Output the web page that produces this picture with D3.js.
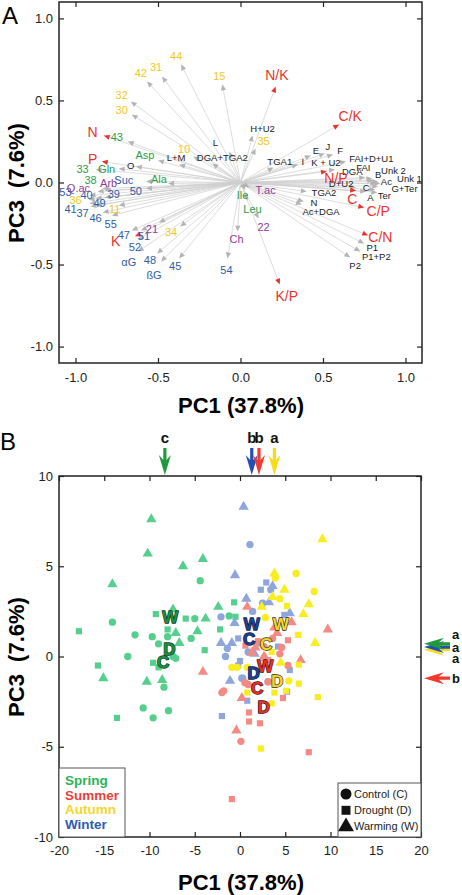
<!DOCTYPE html>
<html><head><meta charset="utf-8">
<script src="https://cdn.jsdelivr.net/npm/d3@7"></script>
<style>
body{margin:0;background:#fff}
svg{display:block}
text{font-family:"Liberation Sans",Arial,Helvetica,sans-serif}
</style></head>
<body><svg id="chart" width="462" height="895"></svg>
<script>
// ---------- Panel A: loadings  [label, x, y, labelX, labelY] ----------
const redLoadings = [
  ["N",-0.829,0.287,-0.896,0.305],["P",-0.841,0.128,-0.896,0.140],["K",-0.640,-0.329,-0.756,-0.360],
  ["N/K",0.213,0.585,0.220,0.652],["C/K",0.598,0.354,0.665,0.402],["N/P",0.524,0.067,0.579,0.024],
  ["C",0.701,-0.049,0.677,-0.104],["C/P",0.750,-0.152,0.835,-0.177],["C/N",0.774,-0.323,0.848,-0.335],
  ["K/P",0.238,-0.622,0.280,-0.695]
];
const yellowLoadings = [
  ["44",-0.360,0.720,-0.390,0.768],["31",-0.476,0.646,-0.512,0.701],["42",-0.567,0.616,-0.604,0.665],
  ["15",-0.110,0.598,-0.128,0.646],["32",-0.665,0.494,-0.720,0.530],["30",-0.659,0.415,-0.720,0.439],
  ["10",-0.287,0.159,-0.341,0.201],["36",-0.921,-0.104,-1.000,-0.110],["11",-0.738,-0.140,-0.762,-0.165],
  ["34",-0.366,-0.268,-0.421,-0.305],["35",0.091,0.207,0.140,0.250]
];
const greenLoadings = [
  ["43",-0.683,0.250,-0.750,0.274],["Asp",-0.500,0.134,-0.579,0.165],["33",-0.878,0.079,-0.957,0.079],
  ["Gln",-0.738,0.085,-0.811,0.079],["Ala",-0.439,-0.006,-0.494,0.018],["38",-0.835,-0.037,-0.909,0.012],
  ["Ile",0.030,-0.043,0.012,-0.079],["Leu",0.043,-0.110,0.073,-0.165]
];
const blueLoadings = [
  ["Suc",-0.573,0.006,-0.707,0.012],["50",-0.573,-0.037,-0.634,-0.055],["53",-0.915,-0.079,-1.061,-0.061],
  ["40",-0.878,-0.098,-0.933,-0.079],["39",-0.823,-0.091,-0.768,-0.073],["49",-0.878,-0.140,-0.854,-0.128],
  ["41",-0.915,-0.128,-1.030,-0.165],["37",-0.909,-0.146,-0.957,-0.189],["46",-0.835,-0.183,-0.878,-0.220],
  ["55",-0.780,-0.201,-0.787,-0.256],["47",-0.659,-0.293,-0.707,-0.323],["51",-0.604,-0.293,-0.585,-0.329],
  ["52",-0.622,-0.348,-0.640,-0.396],["αG",-0.622,-0.421,-0.677,-0.488],["48",-0.506,-0.433,-0.549,-0.476],
  ["ßG",-0.482,-0.482,-0.524,-0.567],["45",-0.372,-0.463,-0.396,-0.512],["54",-0.079,-0.463,-0.085,-0.537]
];
const purpleLoadings = [
  ["Q.ac",-0.866,-0.055,-0.982,-0.037],["Arb",-0.823,-0.049,-0.799,-0.006],["21",-0.494,-0.244,-0.537,-0.287],
  ["Ch",-0.018,-0.299,-0.024,-0.348],["22",0.110,-0.220,0.140,-0.274],["T.ac",0.055,-0.030,0.152,-0.049]
];
const blackLoadings = [
  ["L",-0.067,0.189,-0.152,0.244],["L+M",-0.372,0.110,-0.390,0.152],["DGA+TGA2",-0.171,0.116,-0.110,0.152],
  ["O",-0.634,0.098,-0.665,0.104],["H+U2",0.073,0.287,0.134,0.329],["TGA1",0.201,0.091,0.238,0.128],
  ["I",0.348,0.110,0.378,0.128],["E",0.427,0.165,0.457,0.195],["J",0.512,0.177,0.530,0.220],
  ["F",0.561,0.171,0.604,0.195],["K + U2",0.573,0.079,0.518,0.122],["FAI+D+U1",0.640,0.128,0.793,0.146],
  ["DGA",0.756,0.030,0.677,0.067],["FAI",0.799,0.024,0.744,0.091],["B",0.805,0.012,0.835,0.049],
  ["Unk 2",0.835,0.006,0.927,0.073],["Ac",0.823,-0.006,0.884,0.006],["Unk 1",0.848,-0.006,1.024,0.024],
  ["D+U2",0.701,-0.030,0.610,-0.006],["C",0.835,-0.024,0.762,-0.030],["G+Ter",0.817,-0.043,0.994,-0.037],
  ["A",0.762,-0.055,0.787,-0.091],["Ter",0.829,-0.061,0.872,-0.079],["TGA2",0.402,-0.055,0.506,-0.061],
  ["N",0.384,-0.116,0.445,-0.122],["Ac+DGA",0.372,-0.134,0.488,-0.177],["P1",0.750,-0.372,0.799,-0.396],
  ["P1+P2",0.726,-0.421,0.823,-0.451],["P2",0.665,-0.457,0.695,-0.506]
];
const ticksA = [-1.0,-0.5,0.0,0.5,1.0];

// ---------- Panel B: scores [PC1, PC3, treatment] ----------
const spring = [
  [-9.8,7.6,"W"],[-10.2,5.7,"W"],[-6.3,5.0,"W"],[-4.1,5.4,"W"],[-4.4,4.2,"C"],[-14.1,4.0,"W"],
  [-14.1,1.9,"C"],[-17.8,1.4,"D"],[-11.6,1.2,"C"],[-9.3,2.35,"D"],[-7.4,2.6,"W"],[-6.0,2.1,"D"],
  [-5.0,2.1,"C"],[-3.8,2.1,"W"],[-2.4,2.75,"W"],[-1.2,2.25,"C"],[-2.2,1.5,"D"],[-4.7,1.4,"W"],
  [-5.4,1.0,"C"],[-7.1,1.3,"W"],[-8.0,1.5,"D"],[-8.0,1.1,"C"],[-9.7,1.1,"C"],[-9.0,0.7,"C"],
  [-6.7,0.75,"W"],[-12.4,0.0,"C"],[-3.9,0.35,"D"],[-7.4,0.0,"C"],[-7.1,-0.1,"C"],[-9.6,-0.35,"D"],
  [-9.0,-0.6,"D"],[-15.7,-0.5,"D"],[-15.1,-1.2,"W"],[-10.3,-1.4,"W"],[-8.6,-1.3,"W"],[-8.4,-1.7,"C"],
  [-10.7,-2.85,"C"],[-9.6,-3.4,"C"],[-7.9,-3.0,"C"],[-13.6,-3.4,"D"],[-0.65,3.0,"D"],[-0.5,2.2,"D"]
];
const summer = [
  [0.8,2.75,"W"],[5.7,1.9,"W"],[3.8,1.6,"W"],[9.7,1.5,"W"],[4.1,1.3,"W"],[5.3,0.9,"D"],
  [2.0,0.85,"D"],[0.6,0.6,"D"],[2.65,0.55,"C"],[4.6,0.5,"C"],[4.4,0.15,"C"],[2.65,0.0,"W"],
  [6.7,-0.2,"W"],[3.1,-1.4,"C"],[-4.1,-0.85,"W"],[1.7,0.5,"W"],[5.3,-0.5,"C"],[0.9,-1.55,"C"],
  [-2.0,-2.0,"C"],[-1.8,-1.9,"C"],[0.2,-2.3,"W"],[4.75,-2.3,"D"],[1.0,-3.1,"D"],[1.0,-3.6,"D"],
  [2.2,-3.7,"D"],[-0.4,-4.1,"W"],[0.1,-4.7,"C"],[7.6,-5.3,"D"],[-0.9,-7.9,"D"],[2.8,-0.1,"W"],
  [3.1,-0.2,"D"],[0.55,-1.45,"C"],[1.3,0.2,"W"],[3.6,1.0,"C"]
];
const autumn = [
  [9.1,6.5,"W"],[6.2,4.6,"C"],[3.8,4.6,"W"],[3.9,4.35,"C"],[4.9,3.7,"W"],[8.2,3.6,"C"],
  [3.6,3.3,"W"],[4.4,3.2,"C"],[2.4,2.75,"W"],[5.2,2.8,"D"],[7.6,2.9,"W"],[7.0,2.35,"W"],
  [2.8,2.15,"C"],[6.4,1.2,"D"],[8.3,0.75,"W"],[3.5,0.25,"D"],[-0.3,-0.6,"C"],[0.8,-0.6,"C"],
  [-0.9,-0.6,"C"],[4.5,-0.35,"W"],[6.5,-0.45,"D"],[5.4,-1.35,"C"],[6.5,-1.5,"D"],[3.8,-2.0,"D"],
  [8.6,-2.25,"D"],[3.5,-2.6,"D"],[5.1,-1.9,"D"],[0.8,-2.0,"D"],[2.3,-5.1,"D"]
];
const winter = [
  [0.4,8.3,"W"],[1.1,6.2,"C"],[-0.55,4.5,"W"],[2.9,4.1,"D"],[2.3,3.7,"D"],[3.4,3.7,"C"],
  [3.6,3.9,"W"],[0.7,3.2,"W"],[2.5,2.95,"C"],[3.2,3.0,"W"],[1.4,2.5,"C"],[-2.1,2.2,"C"],
  [-0.6,1.85,"W"],[5.5,2.4,"W"],[4.9,2.3,"D"],[-2.1,0.75,"W"],[-0.9,0.75,"W"],[-0.2,1.0,"D"],
  [-1.4,0.45,"C"],[-1.6,0.0,"C"],[2.0,0.75,"C"],[4.2,0.55,"D"],[0.9,0.25,"C"],[1.6,0.15,"W"],
  [0.0,-0.25,"D"],[-0.2,-0.5,"D"],[0.3,-1.2,"C"],[5.2,-1.95,"D"],[5.5,-0.75,"D"],[-1.1,-1.35,"W"],
  [0.2,-1.2,"C"],[3.1,-1.4,"C"],[0.8,-2.45,"D"],[-2.0,-3.3,"D"]
];
// centroids [season, treatment, PC1, PC3]
const centroids = [
  ["Spring","W",-7.7,2.2],["Spring","D",-7.8,0.4],["Spring","C",-8.5,-0.3],
  ["Winter","W",1.3,1.8],["Winter","C",1.0,0.95],["Winter","D",1.5,-0.9],
  ["Autumn","W",4.5,1.8],["Autumn","C",2.9,0.7],["Autumn","D",4.1,-1.35],
  ["Summer","W",2.8,-0.5],["Summer","C",1.9,-1.75],["Summer","D",2.6,-2.8]
];
// season means with significance letters
const pc1Means = [["Spring",-8.3,"c"],["Winter",1.3,"b"],["Summer",2.1,"b"],["Autumn",3.8,"a"]];
const pc3Means = [["Autumn",0.38,"a"],["Winter",0.52,"a"],["Spring",0.7,"a"],["Summer",-1.2,"b"]];
const seasons = ["Spring","Summer","Autumn","Winter"];
const treatments = [["C","Control (C)"],["D","Drought (D)"],["W","Warming (W)"]];
const ticksBx = [-20,-15,-10,-5,0,5,10,15,20];
const ticksBy = [-10,-5,0,5,10];

// ---------- styles ----------
const groupColor = {red:"#e8352c",yellow:"#f0c81c",green:"#2e9e4e",blue:"#2f5ca8",purple:"#8b3d9c",black:"#222"};
const pointColor = {Spring:"#55cf8c",Summer:"#f48a84",Autumn:"#f9ec1f",Winter:"#8ea6dd"};
const legendColor = {Spring:"#2fb15a",Summer:"#e8413c",Autumn:"#f6d62a",Winter:"#2f5db3"};
const centFill = {Spring:"#1b8f3e",Winter:"#1f3f8f",Autumn:"#f5d61e",Summer:"#e2302a"};
const centStroke = {Spring:"#0b3518",Winter:"#08183d",Autumn:"#2a2a1a",Summer:"#3d0a08"};
const arrowColor = {Spring:"#1e9a3c",Winter:"#2350b4",Summer:"#f23a2e",Autumn:"#f8dc18"};
const shapeOf = {C:d3.symbolCircle,D:d3.symbolSquare,W:d3.symbolTriangle};
const sizeOf = {C:42,D:38,W:46};

const svg = d3.select("#chart");

function frame(x0,x1,y0,y1){
  svg.append("rect").attr("x",x0).attr("y",y0).attr("width",x1-x0).attr("height",y1-y0)
    .attr("fill","none").attr("stroke","#222").attr("stroke-width",1.5);
}
function axes(xs,ys,xt,yt,fmt,padX,padY){
  const r = xs.range(), d = ys.range();
  const gl = svg.append("g").attr("transform",`translate(${r[0]},0)`)
    .call(d3.axisLeft(ys).tickValues(yt).tickSizeInner(-5).tickSizeOuter(0).tickPadding(padY).tickFormat(fmt));
  const gb = svg.append("g").attr("transform",`translate(0,${d[0]})`)
    .call(d3.axisBottom(xs).tickValues(xt).tickSizeInner(-5).tickSizeOuter(0).tickPadding(padX).tickFormat(fmt));
  const gt = svg.append("g").attr("transform",`translate(0,${d[1]})`)
    .call(d3.axisTop(xs).tickValues(xt).tickSizeInner(-5).tickSizeOuter(0).tickFormat(""));
  const gr = svg.append("g").attr("transform",`translate(${r[1]},0)`)
    .call(d3.axisRight(ys).tickValues(yt).tickSizeInner(-5).tickSizeOuter(0).tickFormat(""));
  [gl,gb,gt,gr].forEach(g=>{g.select(".domain").remove();
    g.selectAll("line").attr("stroke","#222").attr("stroke-width",1.2);
    g.selectAll("text").attr("font-size",13).attr("fill","#222")
     .attr("font-family",'"Liberation Sans",Arial,sans-serif');});
}

// =================== PANEL A ===================
const xA = d3.scaleLinear().domain([-1.1,1.1]).range([59,422]);
const yA = d3.scaleLinear().domain([-1.1,1.1]).range([363,2]);

const groupsA = [["black",blackLoadings],["yellow",yellowLoadings],["green",greenLoadings],
                 ["blue",blueLoadings],["purple",purpleLoadings],["red",redLoadings]];
const gLines = svg.append("g");
const gHeads = svg.append("g");
const gLabs = svg.append("g");
groupsA.forEach(([grp,arr])=>{
  arr.forEach(([lab,x,y,lx,ly])=>{
    const x0=xA(0),y0=yA(0),x1=xA(x),y1=yA(y);
    const ang=Math.atan2(y1-y0,x1-x0);
    const L=6, W=2.6;
    const bx=x1-L*Math.cos(ang), by=y1-L*Math.sin(ang);
    gLines.append("line").attr("x1",x0).attr("y1",y0).attr("x2",bx).attr("y2",by)
      .attr("stroke","#cfcfcf").attr("stroke-width",0.7);
    const px=-Math.sin(ang), py=Math.cos(ang);
    gHeads.append("path")
      .attr("d",`M${x1},${y1}L${bx+W*px},${by+W*py}L${bx-W*px},${by-W*py}Z`)
      .attr("fill",grp==="red"?"#e8352c":"#b4b4b4");
    gLabs.append("text").attr("x",xA(lx)).attr("y",yA(ly)).attr("dy","0.35em")
      .attr("text-anchor","middle")
      .attr("font-size",grp==="red"?14:(grp==="black"?9.5:11))
      .attr("fill",groupColor[grp]).text(lab);
  });
});
axes(xA,yA,ticksA,ticksA,d=>d.toFixed(1),10,6);
frame(59,422,2,363);
svg.append("text").attr("x",2).attr("y",24).attr("font-size",24).text("A");
svg.append("text").attr("x",241).attr("y",413).attr("text-anchor","middle")
  .attr("font-size",22).attr("font-weight","bold").text("PC1 (37.8%)");
svg.append("text").attr("transform","translate(24,183) rotate(-90)").attr("text-anchor","middle")
  .attr("font-size",22).attr("font-weight","bold").attr("xml:space","preserve").text("PC3  (7.6%)");

// =================== PANEL B ===================
const xB = d3.scaleLinear().domain([-20,20]).range([59,421]);
const yB = d3.scaleLinear().domain([-10,10]).range([837,476]);

const seasonData = {Spring:spring,Summer:summer,Autumn:autumn,Winter:winter};
const gPts = svg.append("g");
["Spring","Winter","Summer","Autumn"].forEach(s=>{
  gPts.selectAll(null).data(seasonData[s]).join("path")
    .attr("transform",d=>`translate(${xB(d[0])},${yB(d[1])})`)
    .attr("d",d=>d3.symbol(shapeOf[d[2]],sizeOf[d[2]])())
    .attr("fill",pointColor[s]);
});
// centroid letters
svg.append("g").selectAll("text").data(centroids).join("text")
  .attr("x",d=>xB(d[2])).attr("y",d=>yB(d[3])).attr("dy","0.36em").attr("text-anchor","middle")
  .attr("font-size",17).attr("font-weight","bold")
  .attr("fill",d=>centFill[d[0]]).attr("stroke",d=>centStroke[d[0]]).attr("stroke-width",1.3)
  .attr("paint-order","stroke").attr("stroke-linejoin","round").text(d=>d[1]);

axes(xB,yB,ticksBx,ticksBy,d=>String(d),9,6);
frame(59,421,476,837);

// legends
svg.append("rect").attr("x",59).attr("y",768).attr("width",66).attr("height",69)
  .attr("fill","#fff").attr("stroke","#555").attr("stroke-width",1);
svg.append("g").selectAll("text").data(seasons).join("text")
  .attr("x",65).attr("y",(d,i)=>785+i*14.6).attr("font-size",13.5).attr("font-weight","bold")
  .attr("fill",d=>legendColor[d]).text(d=>d);
svg.append("rect").attr("x",338).attr("y",783).attr("width",83).attr("height",54)
  .attr("fill","#fff").attr("stroke","#555").attr("stroke-width",1);
const lg = svg.append("g").selectAll("g").data(treatments).join("g")
  .attr("transform",(d,i)=>`translate(346,${794+i*16.3})`);
lg.append("path").attr("d",d=>d3.symbol(shapeOf[d[0]],d[0]==="W"?110:(d[0]==="D"?80:95))()).attr("fill","#111");
lg.append("text").attr("x",8).attr("dy","0.35em").attr("font-size",11).attr("fill","#222").text(d=>d[1]);

// significance arrows (top)
pc1Means.forEach(([s,v,l])=>{
  const cx=xB(v), t=448, b=475;
  svg.append("path").attr("d",
    `M${cx-1.6},${t}L${cx+1.6},${t}L${cx+1.6},${b-15}L${cx+6},${b-20}L${cx},${b}L${cx-6},${b-20}L${cx-1.6},${b-15}Z`)
    .attr("fill",arrowColor[s]);
});
svg.append("g").selectAll("text").data(pc1Means).join("text")
  .attr("x",d=>xB(d[1])).attr("y",443).attr("text-anchor","middle")
  .attr("font-size",15).attr("font-weight","bold").attr("fill","#111").text(d=>d[2]);
// significance arrows (right)
pc3Means.forEach(([s,v,l],i)=>{
  const cy=yB(v), t=424, e=450;
  svg.append("path").attr("d",
    `M${e},${cy-1.6}L${e},${cy+1.6}L${t+15},${cy+1.6}L${t+20},${cy+6}L${t},${cy}L${t+20},${cy-6}L${t+15},${cy-1.6}Z`)
    .attr("fill",arrowColor[s]);
});
// stacked letters: the three tied "a" labels are fanned out so they stay legible
const stackShift = [7,0,-7,0];
svg.append("g").selectAll("text").data(pc3Means).join("text")
  .attr("x",452).attr("y",(d,i)=>yB(d[1])+stackShift[i]+(i<3?(i===0?2:(i===2?-2:0)):0)).attr("dy","0.35em")
  .attr("font-size",13).attr("font-weight","bold").attr("fill","#111").text(d=>d[2]);

svg.append("text").attr("x",0).attr("y",450).attr("font-size",24).text("B");
svg.append("text").attr("x",241).attr("y",890).attr("text-anchor","middle")
  .attr("font-size",22).attr("font-weight","bold").text("PC1 (37.8%)");
svg.append("text").attr("transform","translate(24,657) rotate(-90)").attr("text-anchor","middle")
  .attr("font-size",22).attr("font-weight","bold").attr("xml:space","preserve").text("PC3  (7.6%)");
</script></body></html>
